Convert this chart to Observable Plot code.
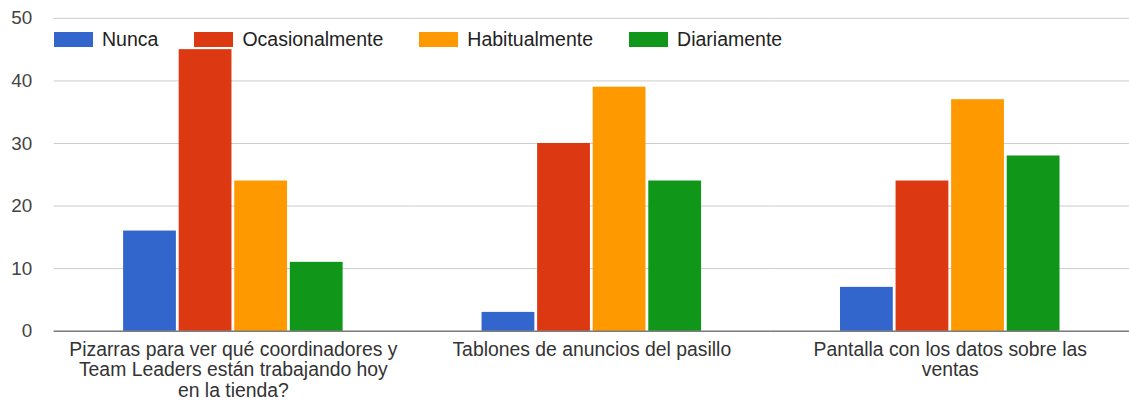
<!DOCTYPE html>
<html><head><meta charset="utf-8">
<script src="https://cdn.jsdelivr.net/npm/d3@7"></script>
<script src="https://cdn.jsdelivr.net/npm/@observablehq/plot@0.6"></script>
<style>
html,body{margin:0;padding:0;background:#fff;}
#wrap{position:relative;width:1129px;height:407px;overflow:hidden;font-family:"Liberation Sans",Arial,sans-serif;}
#legend{position:absolute;top:28px;left:54px;display:flex;font-size:19.5px;color:#222;white-space:nowrap;}
.item{display:flex;align-items:center;margin-right:36px;}
.sw{width:39px;height:15px;margin-right:9px;}
</style></head><body><div id="wrap"><div id="chart"></div><div id="legend"></div></div>
<script>
const categories = [
  "Pizarras para ver qué coordinadores y Team Leaders están trabajando hoy en la tienda?",
  "Tablones de anuncios del pasillo",
  "Pantalla con los datos sobre las ventas"
];
const tickLabels = [
  "Pizarras para ver qué coordinadores y\nTeam Leaders están trabajando hoy\nen la tienda?",
  "Tablones de anuncios del pasillo",
  "Pantalla con los datos sobre las\nventas"
];
const series = ["Nunca", "Ocasionalmente", "Habitualmente", "Diariamente"];
const nunca = [16, 3, 7];
const ocasionalmente = [45, 30, 24];
const habitualmente = [24, 39, 37];
const diariamente = [11, 24, 28];
const colors = ["#3366cc", "#dc3912", "#ff9900", "#109618"];
const yTicks = [0, 10, 20, 30, 40, 50];

const valuesBySeries = [nunca, ocasionalmente, habitualmente, diariamente];
const data = [];
categories.forEach((c, i) => {
  series.forEach((s, j) => data.push({cat: c, series: s, value: valuesBySeries[j][i]}));
});

const chart = Plot.plot({
  width: 1137,
  height: 407,
  marginLeft: 54,
  marginRight: 0,
  marginTop: 18,
  marginBottom: 74,
  style: {fontFamily: "'Liberation Sans', Arial, sans-serif", fontSize: "19px", color: "#444", background: "#fff"},
  fx: {domain: categories, padding: 0, round: false, axis: null},
  x: {domain: series, paddingInner: 0.05, paddingOuter: 1.25, round: false, axis: null},
  y: {domain: [0, 50], ticks: yTicks, tickSize: 0, tickPadding: 22, label: null},
  color: {domain: series, range: colors},
  marks: [
    Plot.ruleY(yTicks.filter(d => d > 0), {stroke: "#cccccc", strokeWidth: 1}),
    Plot.barY(data, {fx: "cat", x: "series", y: "value", fill: "series"}),
    Plot.ruleY([0], {stroke: "#333333", strokeWidth: 1}),
    Plot.text(categories, {fx: d => d, text: (d, i) => tickLabels[i], frameAnchor: "bottom", lineAnchor: "top", dy: 11, lineHeight: 1.04, fill: "#333", fontSize: 19.5})
  ]
});
document.getElementById("chart").appendChild(chart);

const legend = document.getElementById("legend");
series.forEach((s, j) => {
  const item = document.createElement("div");
  item.className = "item";
  const sw = document.createElement("div");
  sw.className = "sw";
  sw.style.background = colors[j];
  const t = document.createElement("span");
  t.textContent = s;
  item.appendChild(sw);
  item.appendChild(t);
  legend.appendChild(item);
});
</script>
</body></html>
